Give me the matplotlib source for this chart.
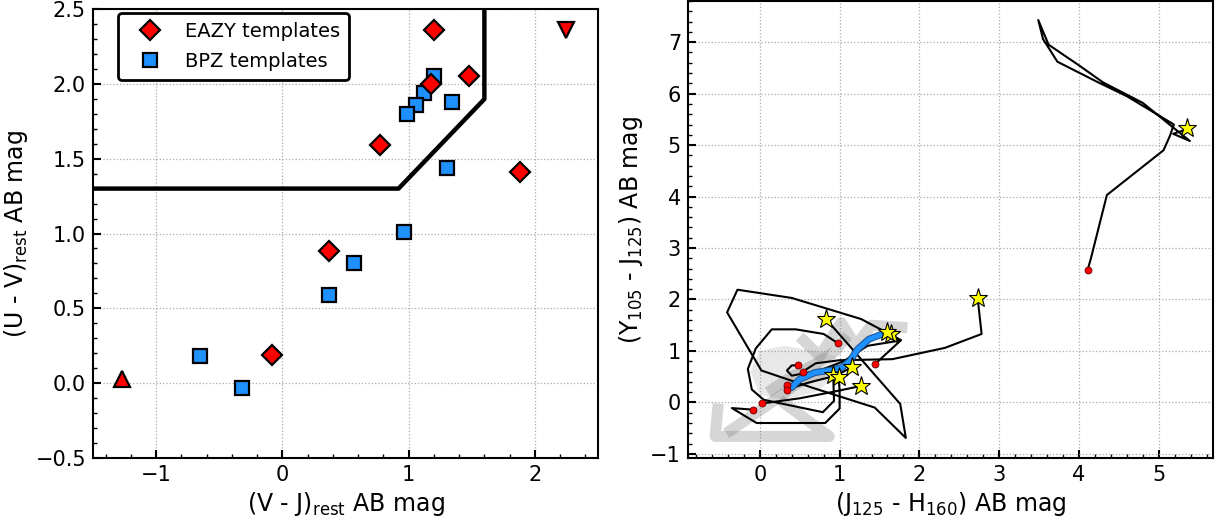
import matplotlib
matplotlib.use("Agg")
import matplotlib.pyplot as plt
from matplotlib.ticker import MultipleLocator
import numpy as np

plt.rcParams['font.family'] = ['DejaVu Sans']
plt.rcParams['mathtext.default'] = 'regular'

# ---------------- Left panel data (UVJ) ----------------
eazy_vj = [1.20, 1.48, 1.18, 0.77, 1.88, 0.37, -0.08]
eazy_uv = [2.36, 2.05, 2.00, 1.59, 1.41, 0.88, 0.19]
eazy_up_vj = [-1.27]
eazy_up_uv = [0.03]
eazy_dn_vj = [2.25]
eazy_dn_uv = [2.36]
bpz_vj = [1.20, 1.12, 1.06, 0.99, 1.34, 1.30, 0.96, 0.57, 0.37, -0.65, -0.32]
bpz_uv = [2.05, 1.94, 1.86, 1.80, 1.88, 1.44, 1.01, 0.80, 0.59, 0.18, -0.03]
uvj_x = [-1.5, 0.92, 1.6, 1.6]
uvj_y = [1.3, 1.3, 1.898, 2.5]

# ---------------- Right panel data (tracks) ----------------
trackA_x = [0.98, 0.80, 0.45, 0.15, -0.05, -0.15, -0.10, 0.05, 0.79, 0.93, 0.92]
trackA_y = [1.15, 1.33, 1.42, 1.42, 1.05, 0.65, 0.25, 0.05, -0.19, 0.03, 0.54]
trackB_x = [1.44, 1.77, 1.27, 0.40, -0.28, -0.41, 0.02, 0.65, 1.44, 1.83, 1.76, 0.83]
trackB_y = [0.74, 1.21, 1.62, 2.03, 2.19, 1.75, 0.62, 0.29, -0.10, -0.69, -0.03, 1.62]
trackC_x = [4.11, 4.15, 4.35, 5.06, 5.14, 5.19, 4.60, 4.24, 3.73, 3.55, 3.49,
            3.62, 4.00, 4.30, 4.80, 5.39, 5.18, 5.30, 5.35]
trackC_y = [2.58, 2.80, 4.03, 4.90, 5.18, 5.40, 5.95, 6.22, 6.62, 7.06, 7.43,
            6.95, 6.55, 6.22, 5.82, 5.08, 5.22, 5.28, 5.33]
trackD_x = [0.54, 0.70, 1.00, 1.66, 2.32, 2.78, 2.73]
trackD_y = [0.60, 0.76, 0.82, 0.84, 1.06, 1.33, 2.03]
trackE_x = [0.48, 0.40, 0.34, 0.40, 0.75, 1.05, 1.35, 1.75, 1.64]
trackE_y = [0.72, 0.72, 0.62, 0.52, 0.62, 0.80, 1.10, 1.20, 1.33]
trackF_x = [0.03, 0.50, 0.90, 1.27]
trackF_y = [-0.02, 0.08, 0.20, 0.32]
trackG_x = [-0.09, -0.35, -0.04, 0.82, 1.00, 1.00, 0.99]
trackG_y = [-0.14, -0.11, -0.40, -0.40, -0.12, 0.20, 0.50]
trackH_x = [0.34, 0.40, 0.50, 0.69, 0.91, 1.03, 1.13, 1.23, 1.37, 1.52, 1.59]
trackH_y = [0.34, 0.29, 0.45, 0.58, 0.63, 0.68, 0.81, 1.04, 1.23, 1.32, 1.37]
trackI_x = [0.34, 0.60, 0.90, 1.05, 1.16]
trackI_y = [0.25, 0.38, 0.50, 0.60, 0.69]

# gray background tracks
gray1_x = [-0.52, -0.56, 0.87, 0.25]
gray1_y = [-0.02, -0.66, -0.66, 0.05]
gray2_x = [-0.42, 0.10, 0.45, 0.80]
gray2_y = [-0.60, -0.05, 0.35, 0.60]
gray3_x = [0.50, 0.75, 1.02, 1.20, 1.40, 1.85]
gray3_y = [1.28, 0.90, 1.55, 1.10, 1.50, 1.45]
gray4_x = [0.10, 0.40, 0.70, 0.95, 1.10]
gray4_y = [0.20, 0.50, 0.75, 1.00, 1.30]
blob_x = [-0.12, 0.00, 0.30, 0.70, 0.95, 1.00, 0.70, 0.30, 0.00]
blob_y = [0.60, 1.00, 1.10, 1.00, 0.90, 0.55, 0.20, 0.05, 0.15]

tracks = [(trackA_x, trackA_y), (trackB_x, trackB_y), (trackC_x, trackC_y),
          (trackD_x, trackD_y), (trackE_x, trackE_y), (trackF_x, trackF_y),
          (trackG_x, trackG_y), (trackH_x, trackH_y), (trackI_x, trackI_y)]
grays = [(gray1_x, gray1_y), (gray2_x, gray2_y), (gray3_x, gray3_y), (gray4_x, gray4_y)]

fig = plt.figure(figsize=(12.22, 5.19), dpi=100)
ax1 = fig.add_axes([93/1222, 61/519, 505/1222, 449/519])
ax2 = fig.add_axes([688/1222, 61/519, 525/1222, 457/519])


def style(ax):
    for s in ax.spines.values():
        s.set_linewidth(1.5)
    ax.tick_params(which='both', direction='in', top=False, right=False, labelsize=15)
    ax.tick_params(which='major', length=6, width=1.5, pad=5)
    ax.tick_params(which='minor', length=3, width=1.0)
    ax.grid(True, which='major', linestyle=':', color='#aaaaaa', linewidth=0.9)
    ax.set_axisbelow(True)


# Left panel
style(ax1)
ax1.plot(uvj_x, uvj_y, color='black', lw=3.2, zorder=2)
ax1.plot(eazy_vj, eazy_uv, 'D', ms=10, mfc='red', mec='black', mew=1.6,
         ls='none', label='EAZY templates', zorder=4)
ax1.plot(bpz_vj, bpz_uv, 's', ms=10, mfc='#1e90ff', mec='black', mew=1.6,
         ls='none', label='BPZ templates', zorder=3)
ax1.plot(eazy_up_vj, eazy_up_uv, '^', ms=12, mfc='red', mec='black', mew=1.6, ls='none', zorder=4)
ax1.plot(eazy_dn_vj, eazy_dn_uv, 'v', ms=12, mfc='red', mec='black', mew=1.6, ls='none', zorder=4)
ax1.set_xlim(-1.5, 2.5)
ax1.set_ylim(-0.5, 2.5)
ax1.xaxis.set_major_locator(MultipleLocator(1))
ax1.xaxis.set_minor_locator(MultipleLocator(0.2))
ax1.yaxis.set_major_locator(MultipleLocator(0.5))
ax1.yaxis.set_minor_locator(MultipleLocator(0.1))
ax1.set_xlabel('(V - J)$_{rest}$ AB mag', fontsize=17)
ax1.set_ylabel('(U - V)$_{rest}$ AB mag', fontsize=17)
leg = ax1.legend(loc='upper left', bbox_to_anchor=(0.05, 0.99), borderaxespad=0,
                 numpoints=1, fontsize=14, handletextpad=0.6, framealpha=1,
                 edgecolor='black', borderpad=0.45, labelspacing=0.55,
                 handlelength=2.4)
leg.get_frame().set_linewidth(2)

# Right panel
style(ax2)
ax2.fill(blob_x, blob_y, color='gray', alpha=0.18, lw=0, zorder=1)
for gx, gy in grays:
    ax2.plot(gx, gy, color='gray', lw=8, alpha=0.32, solid_capstyle='butt', zorder=1)
for tx, ty in tracks:
    ax2.plot(tx, ty, color='black', lw=1.5, zorder=3)
ax2.plot(trackH_x[1:], trackH_y[1:], color='#1a4f8a', lw=5, solid_capstyle='round', zorder=4)
ax2.plot(trackH_x[1:], trackH_y[1:], color='#1e90ff', lw=3.6, solid_capstyle='round', zorder=4)
for tx, ty in tracks:
    ax2.plot(tx[0], ty[0], 'o', ms=5, mfc='red', mec='#660000', mew=0.6, zorder=5)
    ax2.plot(tx[-1], ty[-1], '*', ms=14, mfc='yellow', mec='black', mew=0.8, zorder=6)
ax2.set_xlim(-0.9, 5.68)
ax2.set_ylim(-1.08, 7.8)
ax2.xaxis.set_major_locator(MultipleLocator(1))
ax2.xaxis.set_minor_locator(MultipleLocator(0.2))
ax2.yaxis.set_major_locator(MultipleLocator(1))
ax2.yaxis.set_minor_locator(MultipleLocator(0.2))
ax2.set_xlabel('(J$_{125}$ - H$_{160}$) AB mag', fontsize=17)
ax2.set_ylabel('(Y$_{105}$ - J$_{125}$) AB mag', fontsize=17)

fig.savefig('out.png', dpi=100)
